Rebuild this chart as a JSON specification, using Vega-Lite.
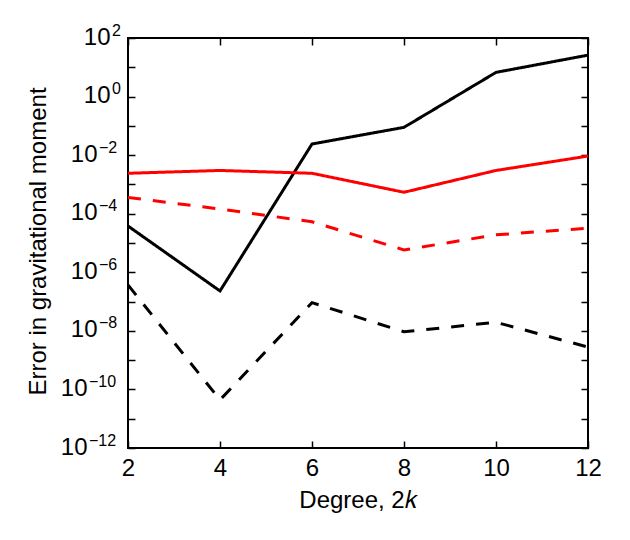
{
  "$schema": "https://vega.github.io/schema/vega-lite/v6.json",
  "width": 460,
  "height": 410,
  "autosize": "none",
  "padding": {"left": 128, "top": 38, "right": 42, "bottom": 92},
  "config": {
    "font": "Liberation Sans",
    "view": {"stroke": "#000000", "strokeWidth": 2},
    "axis": {
      "domain": false,
      "grid": false,
      "tickColor": "#000000",
      "tickWidth": 1.5,
      "labelColor": "#000000",
      "titleColor": "#000000",
      "labelFontSize": 24,
      "titleFontSize": 24,
      "titleFontWeight": "normal",
      "labelFlush": false,
      "labelOverlap": false
    }
  },
  "data": {
    "values": [
      {"degree": 2, "error": 3.8e-5, "series": "black solid"},
      {"degree": 4, "error": 2.3e-7, "series": "black solid"},
      {"degree": 6, "error": 0.024, "series": "black solid"},
      {"degree": 8, "error": 0.089, "series": "black solid"},
      {"degree": 10, "error": 6.7, "series": "black solid"},
      {"degree": 12, "error": 26, "series": "black solid"},
      {"degree": 2, "error": 0.0024, "series": "red solid"},
      {"degree": 4, "error": 0.003, "series": "red solid"},
      {"degree": 6, "error": 0.0024, "series": "red solid"},
      {"degree": 8, "error": 0.00054, "series": "red solid"},
      {"degree": 10, "error": 0.003, "series": "red solid"},
      {"degree": 12, "error": 0.0093, "series": "red solid"},
      {"degree": 2, "error": 3.6e-4, "series": "red dashed"},
      {"degree": 4, "error": 1.45e-4, "series": "red dashed"},
      {"degree": 6, "error": 5.3e-5, "series": "red dashed"},
      {"degree": 8, "error": 5.8e-6, "series": "red dashed"},
      {"degree": 10, "error": 1.9e-5, "series": "red dashed"},
      {"degree": 12, "error": 3.2e-5, "series": "red dashed"},
      {"degree": 2, "error": 3.7e-7, "series": "black dashed"},
      {"degree": 4, "error": 4.4e-11, "series": "black dashed"},
      {"degree": 6, "error": 9.2e-8, "series": "black dashed"},
      {"degree": 8, "error": 9.3e-9, "series": "black dashed"},
      {"degree": 10, "error": 1.96e-8, "series": "black dashed"},
      {"degree": 12, "error": 2.8e-9, "series": "black dashed"}
    ]
  },
  "layer": [
    {
      "mark": {"type": "line", "strokeWidth": 3, "strokeCap": "butt", "clip": true},
      "encoding": {
        "x": {
          "field": "degree",
          "type": "quantitative",
          "scale": {"domain": [2, 12], "nice": false, "zero": false},
          "axis": {
            "orient": "bottom",
            "values": [2, 4, 6, 8, 10, 12],
            "tickSize": -7,
            "labelPadding": 15,
            "labelBaseline": "top",
            "title": "Degree, 2𝑘",
            "titleX": 230,
            "titleY": 59,
            "titleAlign": "center",
            "titleBaseline": "alphabetic"
          }
        },
        "y": {
          "field": "error",
          "type": "quantitative",
          "scale": {"type": "log", "domain": [1e-12, 100], "nice": false},
          "axis": {
            "orient": "left",
            "values": [1e-12, 1e-11, 1e-10, 1e-9, 1e-8, 1e-7, 1e-6, 1e-5, 1e-4, 1e-3, 1e-2, 1e-1, 1, 10, 100],
            "tickSize": -7,
            "labelPadding": {
              "condition": [
                {"test": "datum.value > 0.5", "value": 25},
                {"test": "datum.value > 5e-9", "value": 38}
              ],
              "value": 48
            },
            "labelAlign": "right",
            "labelBaseline": "middle",
            "labelOffset": -1,
            "labelExpr": "round(log(datum.value) / LN10) % 2 == 0 ? '10' : ''",
            "title": "Error in gravitational moment",
            "titleAngle": -90,
            "titleX": -83,
            "titleY": 203,
            "titleAlign": "center",
            "titleBaseline": "alphabetic"
          }
        },
        "color": {
          "field": "series",
          "type": "nominal",
          "scale": {
            "domain": ["black solid", "red solid", "red dashed", "black dashed"],
            "range": ["#000000", "#ff0000", "#ff0000", "#000000"]
          },
          "legend": null
        },
        "strokeDash": {
          "field": "series",
          "type": "nominal",
          "scale": {
            "domain": ["black solid", "red solid", "red dashed", "black dashed"],
            "range": [[1, 0], [1, 0], [13, 12], [13, 12]]
          },
          "legend": null
        }
      }
    },
    {
      "mark": {"type": "line", "opacity": 0},
      "encoding": {
        "x": {
          "field": "degree",
          "type": "quantitative",
          "axis": {
            "orient": "top",
            "values": [2, 4, 6, 8, 10, 12],
            "tickSize": -7,
            "labels": false,
            "title": null
          }
        },
        "y": {
          "field": "error",
          "type": "quantitative",
          "axis": {
            "orient": "right",
            "values": [1e-12, 1e-11, 1e-10, 1e-9, 1e-8, 1e-7, 1e-6, 1e-5, 1e-4, 1e-3, 1e-2, 1e-1, 1, 10, 100],
            "tickSize": -7,
            "labels": false,
            "title": null
          }
        },
        "detail": {"field": "series", "type": "nominal"}
      }
    },
    {
      "mark": {"type": "line", "opacity": 0},
      "encoding": {
        "x": {"field": "degree", "type": "quantitative", "axis": null},
        "y": {
          "field": "error",
          "type": "quantitative",
          "axis": {
            "orient": "left",
            "values": [1e-12, 1e-10, 1e-8, 1e-6, 1e-4, 1e-2, 1, 100],
            "ticks": false,
            "labelFontSize": 16,
            "labelAlign": "left",
            "labelBaseline": "middle",
            "labelOffset": -8,
            "labelPadding": {
              "condition": [
                {"test": "datum.value > 0.5", "value": 16.5},
                {"test": "datum.value > 5e-9", "value": 29.5}
              ],
              "value": 39.5
            },
            "labelExpr": "format(round(log(datum.value) / LN10), 'd')",
            "title": null
          }
        },
        "detail": {"field": "series", "type": "nominal"}
      }
    }
  ]
}
